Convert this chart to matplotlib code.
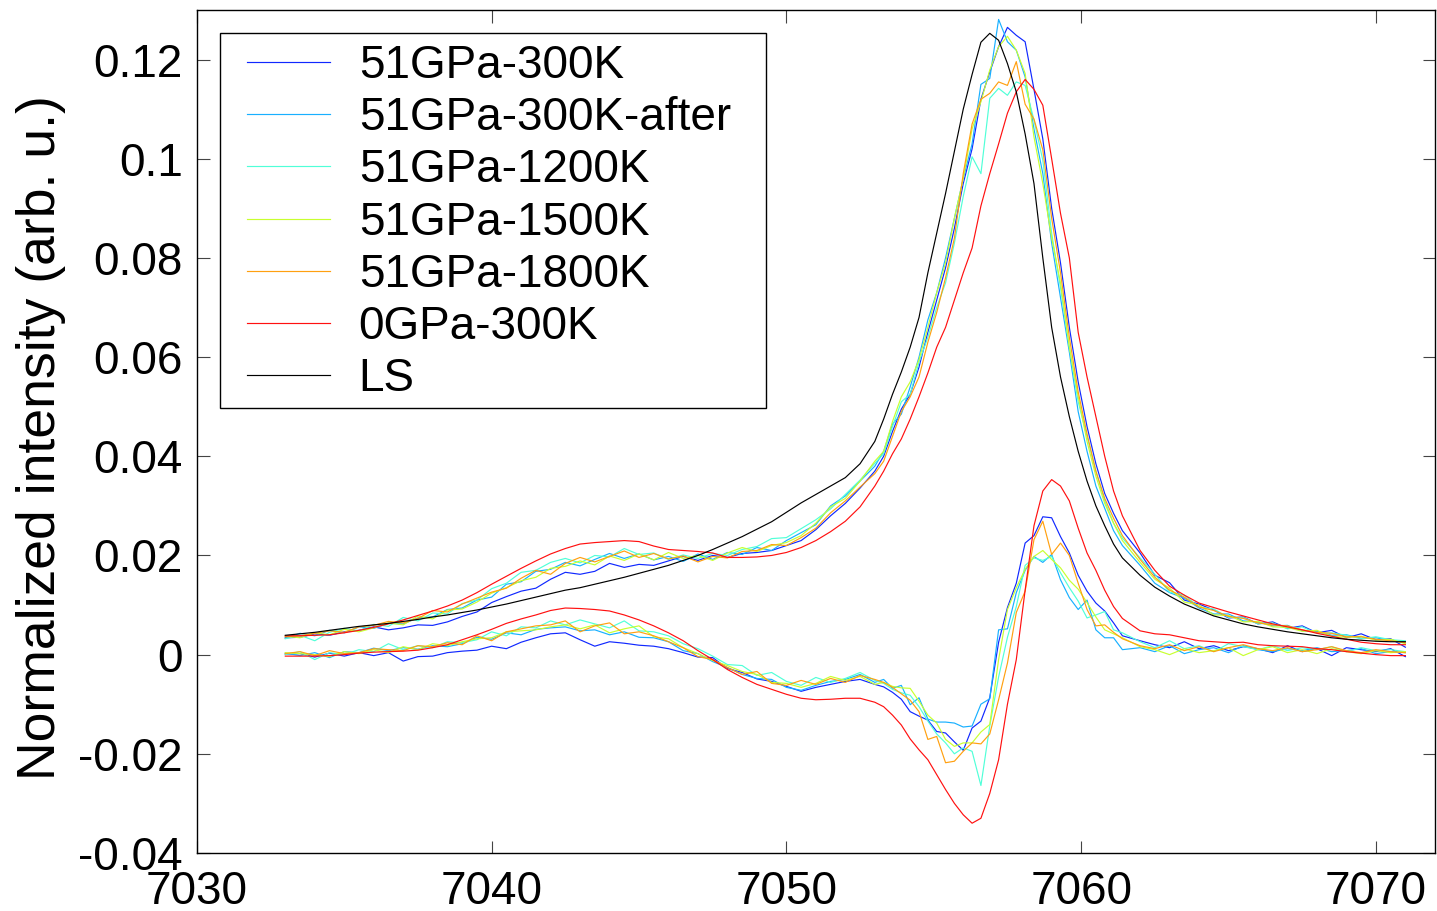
import matplotlib
matplotlib.use("Agg")
import matplotlib.pyplot as plt
from matplotlib.patches import Rectangle
import numpy as np

# energy grid (eV): 0.5 eV in the tails, 0.3 eV around the main line
energy = np.concatenate([
    np.linspace(7033.0, 7053.0, 41),
    np.linspace(7053.3, 7061.4, 28),
    np.linspace(7062.0, 7071.0, 19),
])

labels = ["51GPa-300K", "51GPa-300K-after", "51GPa-1200K", "51GPa-1500K",
          "51GPa-1800K", "0GPa-300K", "LS"]
colors = ["#1028ff", "#18b0ff", "#50ffd8", "#c8ff30", "#ffa010", "#ff1010", "black"]

# spectra, in units of 1e-3
spec_51_300 = [
    3.4, 3.5, 4.2, 3.9, 4.6, 4.9, 5.6, 5.0, 5.4, 6.0, 5.9, 6.6, 7.7, 8.6, 10.5, 11.7, 12.8, 13.4, 15.2, 16.6,
    16.2, 16.8, 18.4, 17.6, 18.2, 18.0, 18.9, 19.8, 19.0, 20.0, 19.6, 20.4, 20.6, 21.0, 22.0, 23.0, 25.2, 28.0,
    30.5, 33.6, 37.0,
    40, 45, 49.5, 52.5, 58, 65, 71.5, 78, 86, 95, 102, 112, 117.5, 122.6, 126.5, 124.9, 123.6, 114, 104, 90,
    79, 66, 55, 46, 38.5, 32.5, 28.5, 25,
    20.5, 16.0, 14.5, 11.0, 10.2, 9.0, 7.4, 7.6, 6.2, 6.6, 5.3, 5.8, 4.4, 4.9, 3.4, 4.2, 3.0, 3.2, 1.5]
spec_51_300_after = [
    3.3, 4.3, 3.8, 4.9, 4.4, 5.6, 5.3, 6.3, 6.2, 7.4, 7.6, 9.1, 9.4, 11.0, 11.6, 14.2, 14.7, 16.8, 17.2, 18.6,
    17.9, 19.2, 20.4, 19.4, 20.3, 19.1, 19.8, 18.8, 20.3, 19.2, 20.6, 20.2, 21.6, 21.0, 23.0, 24.6, 26.2, 30.0,
    32.0, 35.0, 38.0,
    41, 46.5, 48.5, 54, 60, 67.5, 73, 80, 88, 96, 103, 115, 116.2, 128.1, 123.6, 121.9, 116.5, 106, 97, 83,
    72, 61, 49, 41, 34, 29.5, 25, 22,
    18.0, 14.4, 12.5, 11.4, 9.4, 8.2, 8.2, 6.8, 6.6, 5.8, 5.9, 4.8, 4.7, 3.9, 4.0, 3.3, 3.4, 2.8, 2.6]
spec_51_1200 = [
    3.2, 3.9, 2.8, 4.5, 5.3, 4.8, 6.1, 5.7, 7.5, 6.8, 8.4, 8.2, 10.3, 11.0, 13.3, 14.4, 16.6, 17.0, 18.6, 19.4,
    18.5, 20.0, 19.7, 21.4, 20.2, 20.5, 19.2, 20.1, 19.4, 20.4, 20.0, 21.2, 21.8, 23.4, 23.6, 25.4, 27.2, 29.4,
    32.3, 35.2, 38.6,
    40.5, 46, 51, 52.5, 59, 64, 70, 75, 83, 92.4, 100.4, 97, 112.2, 114.2, 112.8, 115.5, 114.8, 107.8, 99.7, 85,
    74, 62, 51, 44, 37, 31, 26.5, 23.5,
    19.5, 16.2, 12.6, 12.0, 9.6, 9.2, 7.5, 7.5, 6.2, 6.4, 5.2, 5.6, 4.3, 4.4, 3.9, 3.2, 3.6, 3.0, 2.8]
spec_51_1500 = [
    3.7, 3.4, 4.4, 4.0, 5.1, 4.6, 5.4, 6.4, 6.0, 7.8, 7.2, 9.0, 9.2, 10.6, 12.4, 13.5, 14.9, 15.6, 17.4, 17.8,
    18.9, 18.1, 19.9, 19.0, 20.3, 19.1, 20.6, 19.4, 20.0, 19.0, 20.5, 21.6, 20.8, 22.0, 22.6, 24.0, 26.5, 29.8,
    31.5, 35.0, 39.0,
    41, 47, 52, 55, 59.5, 66, 73, 79, 88, 96, 106, 111.5, 117.9, 122.6, 124.7, 121.9, 117.2, 104.4, 95, 84,
    75, 62, 52, 43, 36, 30.5, 26.5, 23,
    18.6, 15.2, 13.4, 10.6, 10.0, 8.0, 7.9, 6.6, 6.7, 5.6, 5.5, 4.7, 4.9, 3.7, 3.5, 3.7, 2.9, 3.1, 2.2]
spec_51_1800 = [
    3.6, 3.8, 4.3, 4.8, 4.5, 5.6, 5.9, 6.7, 6.4, 7.3, 8.9, 8.6, 10.2, 11.4, 12.6, 13.4, 15.4, 17.0, 16.2, 18.4,
    19.6, 18.7, 19.8, 20.9, 19.6, 20.4, 19.3, 19.9, 18.7, 19.8, 19.5, 20.8, 21.0, 22.2, 22.0, 23.6, 25.5, 28.6,
    31.0, 33.8, 36.5,
    39, 44, 49, 52, 56, 63, 69, 76, 84, 97, 107, 112, 113.2, 115.5, 114.8, 119.6, 111, 108, 101.8, 88,
    77, 64, 53, 44.5, 37, 31.5, 27.5, 24,
    19.2, 15.6, 13.0, 11.6, 9.6, 8.9, 7.7, 7.3, 6.4, 6.0, 5.8, 5.0, 4.5, 4.3, 3.6, 3.6, 3.1, 2.8, 2.4]
spec_0_300 = [
    3.8, 3.8, 3.9, 4.0, 4.4, 4.9, 5.5, 6.2, 7.0, 7.9, 8.8, 9.8, 11.0, 12.5, 14.2, 15.8, 17.4, 18.9, 20.3, 21.4,
    22.3, 22.6, 22.8, 23.0, 22.8, 21.9, 21.2, 21.0, 20.8, 20.5, 19.6, 19.6, 19.7, 20.0, 20.6, 21.6, 23.0, 24.8,
    26.9, 29.8, 34.0,
    37.0, 40.5, 43.5, 47.5, 52.0, 56.8, 62.0, 66.0, 71.5, 77.0, 82.0, 90.5, 97.0, 103.0, 109.2, 113.5, 116.0,
    114.0, 110.8, 100.0, 89.0, 80.0, 65.0, 56.0, 48.0, 40.0, 33.0, 28.0,
    21.0, 17.0, 13.8, 12.0, 10.4, 9.5, 8.6, 7.8, 7.0, 6.2, 5.6, 5.0, 4.3, 3.7, 3.1, 2.5, 2.2, 2.0, 2.0]
spec_ls = [
    3.9, 4.2, 4.5, 4.9, 5.3, 5.7, 6.0, 6.3, 6.7, 7.1, 7.6, 8.0, 8.5, 9.0, 9.6, 10.2, 10.9, 11.6, 12.3, 13.0,
    13.5, 14.2, 14.9, 15.6, 16.4, 17.2, 18.0, 19.0, 20.0, 21.2, 22.5, 23.8, 25.3, 26.8, 28.7, 30.6, 32.3, 34.0,
    35.7, 38.5, 43.0,
    47.5, 52.5, 57.0, 62.0, 68.0, 77.0, 85.0, 93.0, 101.5, 110.0, 117.0, 123.5, 125.3, 123.9, 119.2, 113.5,
    105.0, 95.0, 80.0, 66.0, 56.0, 48.0, 41.0, 35.0, 30.0, 26.0, 22.3, 19.5,
    16.0, 13.6, 11.8, 10.2, 9.0, 7.8, 7.0, 6.2, 5.6, 5.1, 4.6, 4.2, 3.8, 3.4, 3.1, 2.9, 2.7, 2.6, 2.6]

# difference spectra (sample minus LS), in units of 1e-3
diff_51_300 = [
    0.1, 0.2, -0.5, 0.3, -0.3, 0.4, -0.2, 0.4, -1.3, -0.4, -0.3, 0.4, 0.7, 0.9, 1.7, 1.2, 2.5, 3.4, 4.2, 4.4,
    3.0, 1.7, 2.6, 2.3, 1.9, 1.7, 1.2, 0.4, -0.5, -0.6, -2.8, -3.6, -4.9, -5.4, -6.4, -7.4, -6.6, -6.0, -5.4,
    -5.0, -6.0,
    -6.5, -7.6, -9.0, -11.5, -12.4, -13.2, -15.5, -15.8, -17.6, -19.3, -14.8, -13.4, -8.7, 2.5, 9.5, 14.4,
    22.5, 24.0, 27.8, 27.6, 23.8, 20.5, 16.0, 12.8, 10.4, 8.8, 6.4, 3.8,
    2.8, 2.0, 1.4, 2.6, 1.2, 1.8, 0.8, 1.6, 1.2, 0.4, 1.8, 0.6, 1.2, -0.2, 1.4, 1.0, 0.6, 1.2, -0.4]
diff_51_300_after = [
    0.3, -0.2, 0.4, -0.6, 0.6, 0.4, 1.3, 0.8, 1.4, 1.1, 1.8, 1.6, 2.2, 3.5, 3.1, 4.4, 4.0, 5.1, 5.4, 5.6,
    4.8, 5.0, 4.0, 4.6, 3.5, 3.4, 2.6, 0.8, 0.2, -1.4, -2.6, -4.0, -4.8, -5.0, -6.6, -7.2, -6.2, -5.4, -5.0,
    -4.0, -5.6,
    -5.0, -6.8, -6.2, -10.1, -8.7, -13.0, -13.6, -13.6, -13.8, -14.6, -14.4, -10.0, -8.9, 5.0, 5.2, 12.5,
    17.0, 19.8, 18.6, 20.2, 15.1, 11.5, 9.1, 11.0, 5.0, 3.4, 3.4, 1.0,
    1.4, 0.6, 1.8, 0.2, 1.0, 1.4, 0.4, 1.8, 1.0, 0.6, 1.2, 0.8, 1.4, 0.6, 0.8, 1.2, 0.2, 0.6, 0.4]
diff_51_1200 = [
    0.0, 0.6, -1.0, 0.4, 0.0, 1.0, 0.6, 2.2, 1.0, 1.8, 1.4, 2.6, 2.4, 3.0, 4.6, 3.8, 5.6, 5.4, 6.8, 6.0,
    7.0, 6.2, 5.4, 6.8, 4.8, 4.6, 3.8, 2.2, 1.2, -0.3, -2.0, -2.2, -4.2, -3.6, -5.4, -6.2, -4.6, -5.6, -4.8,
    -3.6, -5.2,
    -5.8, -7.0, -7.7, -8.2, -10.5, -13.4, -16.0, -17.8, -20.0, -18.8, -19.5, -26.4, -14.4, -4.5, 3.5, 9.7,
    18.0, 19.5, 19.0, 19.8, 16.5, 13.5, 10.8, 7.4, 8.0, 8.7, 5.0, 4.4,
    2.6, 1.4, 2.8, 1.2, 1.8, 0.6, 2.2, 1.6, 1.0, 1.8, 0.8, 1.4, 1.0, 1.6, 0.6, 1.4, 0.8, 1.0, 0.6]
diff_51_1500 = [
    0.4, 0.2, 0.0, -0.4, 0.6, 0.2, 1.0, 0.4, 1.6, 1.0, 2.2, 1.8, 2.6, 3.2, 3.4, 4.6, 4.8, 5.0, 5.6, 6.0,
    5.2, 6.0, 4.4, 5.2, 5.8, 3.6, 3.2, 1.4, 0.2, -1.2, -2.2, -3.4, -4.0, -5.6, -5.8, -6.6, -5.8, -4.4, -5.2,
    -4.4, -6.0,
    -5.6, -6.4, -6.7, -6.8, -9.4, -12.2, -13.8, -17.1, -18.5, -17.8, -17.8, -15.6, -14.1, -1.0, 9.1, 13.5,
    17.2, 19.8, 21.0, 19.2, 17.5, 15.0, 13.2, 10.5, 7.6, 5.0, 4.2, 3.4,
    1.6, 1.0, 0.0, 1.2, 0.4, 0.8, 1.4, -0.2, 1.0, 1.6, 0.4, 1.0, 0.2, 1.2, 0.6, 0.2, 0.8, 0.4, 0.6]
diff_51_1800 = [
    0.2, 0.6, -0.2, 0.8, 0.2, 0.4, 1.2, 1.0, 0.8, 1.8, 1.6, 2.4, 2.0, 3.8, 2.8, 4.6, 5.2, 5.8, 6.0, 6.8,
    4.6, 5.8, 6.4, 4.2, 4.6, 3.8, 2.6, 1.4, -0.4, -1.0, -2.6, -4.0, -3.4, -5.8, -6.2, -5.2, -6.0, -4.8, -5.6,
    -4.2, -5.0,
    -5.6, -6.6, -7.9, -9.2, -11.5, -17.1, -16.5, -21.8, -21.5, -19.5, -17.8, -18.0, -16.0, -9.1, -1.7, 8.5,
    12.8, 23.2, 26.9, 20.2, 22.5, 20.0, 14.4, 9.1, 5.8, 6.0, 4.5, 3.2,
    1.8, 1.2, 2.0, 0.8, 1.6, 0.6, 1.4, 2.0, 1.2, 0.8, 1.4, 0.6, 1.0, 1.6, 0.8, 0.4, 1.0, 0.6, 0.4]
diff_0_300 = [
    -0.3, -0.3, -0.3, -0.2, 0.0, 0.3, 0.5, 0.6, 0.7, 0.9, 1.4, 2.0, 3.0, 4.0, 5.1, 6.3, 7.2, 8.0, 8.9, 9.4,
    9.3, 9.1, 8.8, 8.0, 7.0, 5.8, 4.4, 2.8, 0.8, -1.0, -3.0, -4.6, -6.0, -7.0, -8.0, -8.8, -9.1, -9.0, -8.8,
    -8.8, -9.6,
    -10.5, -12.2, -14.2, -17.0, -19.2, -21.2, -24.2, -27.2, -30.0, -32.3, -34.0, -33.0, -28.0, -21.2, -10.0,
    -1.0, 13.0, 26.0, 33.0, 35.3, 34.0, 31.0, 25.5, 20.5, 17.0, 13.0, 9.7, 7.3,
    4.8, 4.2, 4.0, 3.4, 2.8, 2.6, 2.4, 2.5, 2.0, 1.8, 1.7, 1.6, 1.2, 1.0, 0.6, 0.3, 0.0, -0.2, -0.2]

x_ticks = [7030, 7040, 7050, 7060, 7070]
y_ticks = [-0.04, -0.02, 0, 0.02, 0.04, 0.06, 0.08, 0.1, 0.12]
y_tick_labels = ["-0.04", "-0.02", "0", "0.02", "0.04", "0.06", "0.08", "0.1", "0.12"]


def make_plot():
    plt.rcParams["font.family"] = ["Liberation Sans", "DejaVu Sans"]
    fig = plt.figure(figsize=(14.37, 9.11), dpi=100)
    ax = fig.add_axes([0.137, 0.0637, 0.8615, 0.9253])

    spectra = [spec_51_300, spec_51_300_after, spec_51_1200, spec_51_1500,
               spec_51_1800, spec_0_300, spec_ls]
    diffs = [diff_51_300, diff_51_300_after, diff_51_1200, diff_51_1500,
             diff_51_1800, diff_0_300]

    handles = []
    for vals, col, lab in zip(spectra, colors, labels):
        line, = ax.plot(energy, np.array(vals) * 1e-3, color=col, lw=0.85, label=lab)
        handles.append(line)
    for vals, col in zip(diffs, colors):
        ax.plot(energy, np.array(vals) * 1e-3, color=col, lw=0.85)

    ax.set_xlim(7030, 7072)
    ax.set_ylim(-0.04, 0.13)
    ax.set_xticks(x_ticks)
    ax.set_yticks(y_ticks)
    ax.set_yticklabels(y_tick_labels)
    ax.tick_params(direction="in", length=9, width=0.8, color="#444444",
                   top=True, right=True, labelsize=33)
    ax.tick_params(axis="y", pad=10)
    ax.tick_params(axis="x", pad=12)
    for sp in ax.spines.values():
        sp.set_linewidth(1.0)
    ax.set_ylabel("Normalized intensity (arb. u.)", fontsize=38.5)
    ax.yaxis.set_label_coords(-0.1055, 0.493)

    # legend box drawn by hand (MATLAB style: wider padding on the sides)
    ax.add_patch(Rectangle((0.0186, 0.5279), 0.441, 0.4448, transform=ax.transAxes,
                           facecolor="white", edgecolor="black", lw=1.0, zorder=4))
    ax.legend(handles=handles, loc="upper left", bbox_to_anchor=(0.0404, 0.9597),
              borderaxespad=0, borderpad=0, fontsize=33, frameon=False,
              handlelength=1.81, handletextpad=0.63, labelspacing=0.18)
    return fig


if __name__ == "__main__":
    fig = make_plot()
    fig.savefig("out.png", dpi=100)
